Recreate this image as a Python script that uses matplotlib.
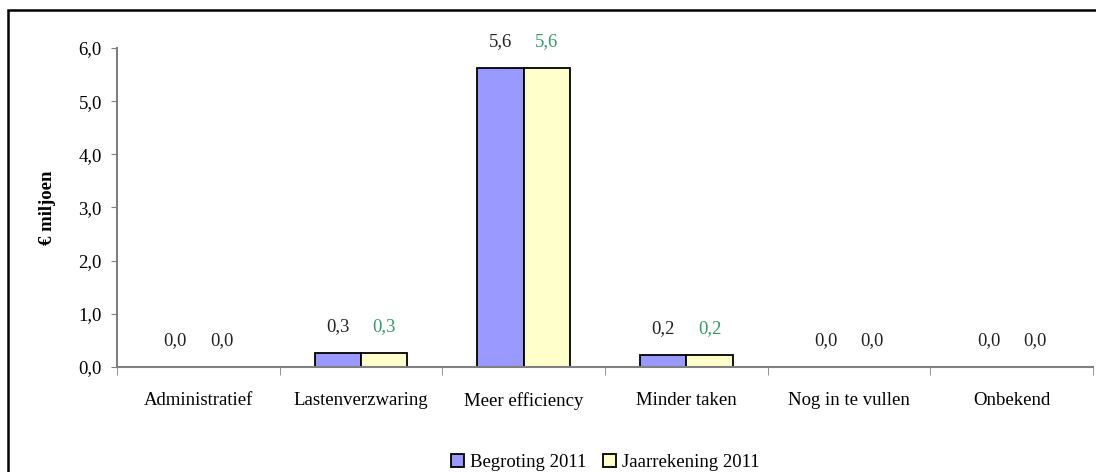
import numpy as np
import matplotlib.pyplot as plt
from matplotlib.patches import Rectangle

# Data
categories = ['Administratief', 'Lastenverzwaring', 'Meer efficiency',
              'Minder taken', 'Nog in te vullen', 'Onbekend']
begroting = [0.0, 0.26, 5.62, 0.22, 0.0, 0.0]
jaarrekening = [0.0, 0.26, 5.62, 0.22, 0.0, 0.0]
series_names = ['Begroting 2011', 'Jaarrekening 2011']

plt.rcParams['font.family'] = ['Liberation Serif', 'DejaVu Serif']
FS = 13.5

fig = plt.figure(figsize=(10.96, 4.72), dpi=100)
ax = fig.add_axes([0.1068, 0.2225, 0.8905, 0.6758])

x = np.arange(len(categories))
w = 0.285
ax.bar(x - w / 2, begroting, w, color='#9999ff', edgecolor='black',
       linewidth=1.3, label=series_names[0])
ax.bar(x + w / 2, jaarrekening, w, color='#ffffcc', edgecolor='black',
       linewidth=1.3, label=series_names[1])

# value labels (zero labels stay dark)
for xi, v in zip(x, begroting):
    ax.annotate(f'{v:.1f}'.replace('.', ','), (xi - w / 2, v), xytext=(0, 19),
                textcoords='offset points', ha='center', va='center',
                fontsize=FS, color='#222222')
for xi, v in zip(x, jaarrekening):
    col = '#339966' if v > 0 else '#222222'
    ax.annotate(f'{v:.1f}'.replace('.', ','), (xi + w / 2, v), xytext=(0, 19),
                textcoords='offset points', ha='center', va='center',
                fontsize=FS, color=col)

ax.set_xlim(-0.5, len(categories) - 0.5)
ax.set_ylim(0, 6)
yt = np.arange(0, 6.1, 1)
ax.set_yticks(yt)
ax.set_yticklabels([f'{t:.1f}'.replace('.', ',') for t in yt])
ax.set_xticks(x)
ax.set_xticklabels(categories)
ax.set_xticks(np.arange(-0.5, len(categories), 1), minor=True)
ax.tick_params(axis='x', which='major', length=0, pad=18, labelsize=FS)
ax.tick_params(axis='x', which='minor', length=6, color='#808080', direction='out')
ax.tick_params(axis='y', length=4, color='#808080', labelsize=FS, pad=7)

for s in ['top', 'right']:
    ax.spines[s].set_visible(False)
for s in ['left', 'bottom']:
    ax.spines[s].set_color('#808080')
    ax.spines[s].set_linewidth(1.5)

ax.set_ylabel('€ miljoen', fontsize=FS, fontweight='bold', labelpad=16)

ax.legend(loc='lower center', bbox_to_anchor=(0.5, -0.38), ncol=2, frameon=False,
          fontsize=FS, handlelength=0.7, handleheight=0.7, handletextpad=0.3,
          columnspacing=0.9)

# outer chart border (right/bottom edges fall outside the image)
fig.add_artist(Rectangle((8 / 1096, -0.1), 1.2, 1 - 10 / 472 + 0.1,
                         transform=fig.transFigure, fill=False,
                         edgecolor='black', linewidth=1.8))

fig.savefig('out.png', dpi=100)
